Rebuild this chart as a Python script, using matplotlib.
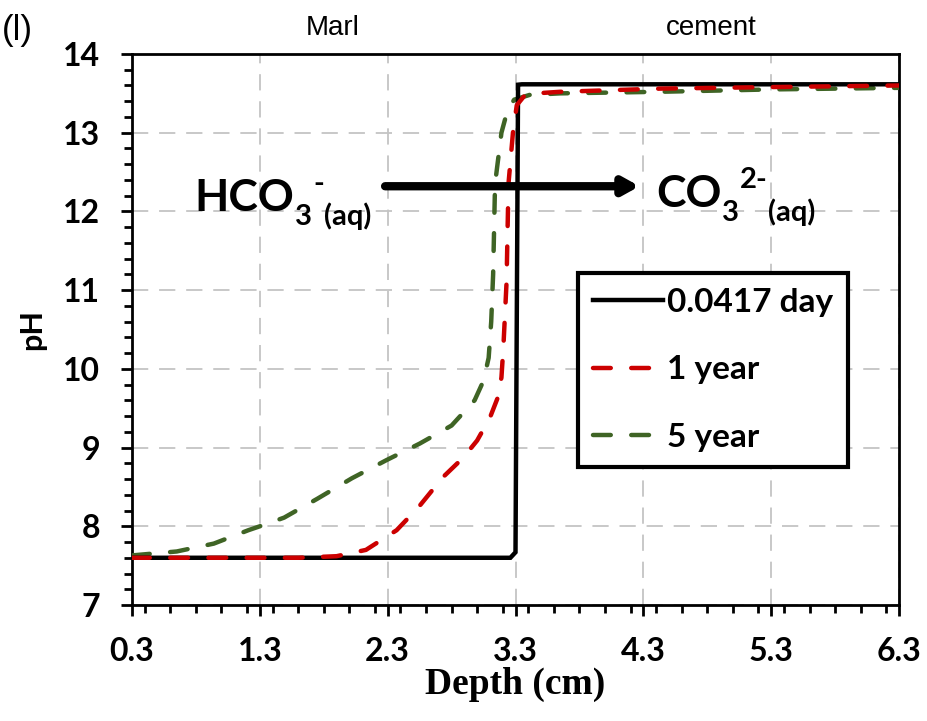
import matplotlib
matplotlib.use("Agg")
import matplotlib.pyplot as plt
from matplotlib.ticker import MultipleLocator, FixedLocator
from matplotlib.transforms import offset_copy

# ---- data ----
x_day = [0.3, 3.26, 3.30, 3.32, 3.35, 6.3]
ph_day = [7.6, 7.6, 7.67, 13.61, 13.615, 13.615]

x_1yr = [0.3, 1.0, 1.6, 1.9, 2.13, 2.37, 2.54, 2.73, 2.89, 3.0, 3.1, 3.16,
         3.19, 3.205, 3.23, 3.245, 3.28, 3.31, 3.37, 3.46, 3.65, 4.43, 5.3, 6.3]
ph_1yr = [7.6, 7.6, 7.6, 7.62, 7.7, 7.95, 8.24, 8.62, 8.87, 9.09, 9.38, 9.63,
          9.89, 10.27, 11.1, 12.35, 13.0, 13.35, 13.47, 13.5, 13.52, 13.56, 13.58, 13.6]

x_5yr = [0.3, 0.65, 0.94, 1.21, 1.3, 1.49, 1.75, 2.02, 2.29, 2.55, 2.8, 2.98,
         3.05, 3.09, 3.11, 3.125, 3.14, 3.19, 3.24, 3.29, 3.41, 3.65, 4.43, 5.3, 6.3]
ph_5yr = [7.63, 7.68, 7.78, 7.95, 8.0, 8.11, 8.35, 8.61, 8.84, 9.05, 9.28, 9.6,
          9.85, 10.14, 10.6, 11.2, 12.35, 13.0, 13.3, 13.42, 13.48, 13.5, 13.52, 13.55, 13.57]

x_ticks = [0.3, 1.3, 2.3, 3.3, 4.3, 5.3, 6.3]
y_ticks = [7, 8, 9, 10, 11, 12, 13, 14]
labels = ['0.0417 day', '1 year', '5 year']
zones = ['Marl', 'cement']
species_left = [('HCO', 'main'), ('3', 'sub'), ('-', 'sup'), ('(aq)', 'sub')]
species_right = [('CO', 'main'), ('3', 'sub'), ('2-', 'sup'), ('(aq)', 'sub')]

fig = plt.figure(figsize=(9.27, 7.21), dpi=100)
ax = fig.add_axes([132/927, 1-605/721, (899-132)/927, (605-54)/721])

lw = 3.2
ax.plot(x_day, ph_day, color='black', lw=lw, solid_joinstyle='miter', label=labels[0], zorder=5)
ax.plot(x_1yr, ph_1yr, color='#cc0000', lw=lw, dashes=(4, 4.6), dash_capstyle='round',
        label=labels[1], zorder=6)
ax.plot(x_5yr, ph_5yr, color='#3f6425', lw=lw, dashes=(4, 4.6), dash_capstyle='round',
        label=labels[2], zorder=4)

ax.set_xlim(0.3, 6.3)
ax.set_ylim(7, 14)
ax.xaxis.set_major_locator(FixedLocator(x_ticks))
ax.yaxis.set_major_locator(FixedLocator(y_ticks))
ax.xaxis.set_minor_locator(MultipleLocator(0.2))
ax.yaxis.set_minor_locator(MultipleLocator(0.2))
ax.set_xticklabels([f'{v:.1f}' for v in x_ticks])
ax.set_yticklabels([str(v) for v in y_ticks])

ax.grid(True, which='major', color='#c4c4c4', lw=1.3, linestyle=(0, (9, 6)))
ax.set_axisbelow(True)

for s in ax.spines.values():
    s.set_linewidth(2.0)
    s.set_color('black')

ax.tick_params(which='major', direction='out', length=8, width=2, pad=15, labelsize=23)
ax.tick_params(which='minor', direction='out', length=6, width=2)
for t in ax.get_xticklabels() + ax.get_yticklabels():
    t.set_fontfamily('Lato')
    t.set_fontweight('bold')

ax.set_xlabel('Depth (cm)', fontfamily='Liberation Serif', fontweight='bold', fontsize=27, labelpad=1)
ax.set_ylabel('pH', fontfamily='Lato', fontweight='bold', fontsize=22, labelpad=12)

# zone labels above axes
ax.text(1.87, 1.035, zones[0], transform=ax.get_xaxis_transform(), ha='center', va='baseline',
        fontfamily='Liberation Sans', fontsize=20)
ax.text(4.83, 1.035, zones[1], transform=ax.get_xaxis_transform(), ha='center', va='baseline',
        fontfamily='Liberation Sans', fontsize=20)

fig.text(0.002, 1-40/721, '(l)', ha='left', va='baseline', fontfamily='Liberation Sans', fontsize=25)

# reaction annotation
ax.annotate('', xy=(4.27, 12.32), xytext=(2.28, 12.32),
            arrowprops=dict(arrowstyle='-|>,head_length=0.9,head_width=0.5', color='black',
                            lw=6, shrinkA=0, shrinkB=0), zorder=7)

fig.canvas.draw()
renderer = fig.canvas.get_renderer()
sizes = {'main': 32, 'sub': 21, 'sup': 21}
dys = {'main': 0, 'sub': -10, 'sup': 14}   # points


def chem(x0, y0, pieces):
    dx = 0.0
    for txt, kind in pieces:
        tr = offset_copy(ax.transData, fig=fig, x=dx, y=dys[kind], units='points')
        t = ax.text(x0, y0, txt, transform=tr, ha='left', va='baseline', fontfamily='Lato',
                    fontweight='bold', fontsize=sizes[kind], zorder=8)
        w = t.get_window_extent(renderer=renderer).width * 72 / fig.dpi
        dx += w + 0.5


chem(0.79, 12.0, species_left)
chem(4.4, 12.05, species_right)

leg = ax.legend(loc='upper left', bbox_to_anchor=((578-132)/767, (605-273)/551),
                prop={'family': 'Lato', 'weight': 'bold', 'size': 24},
                frameon=True, fancybox=False, edgecolor='black', framealpha=1,
                handlelength=2.1, handletextpad=0.12, labelspacing=1.15, borderpad=0.45,
                borderaxespad=0)
leg.get_frame().set_linewidth(3)
leg.set_zorder(10)

fig.savefig('out.png', dpi=100)
